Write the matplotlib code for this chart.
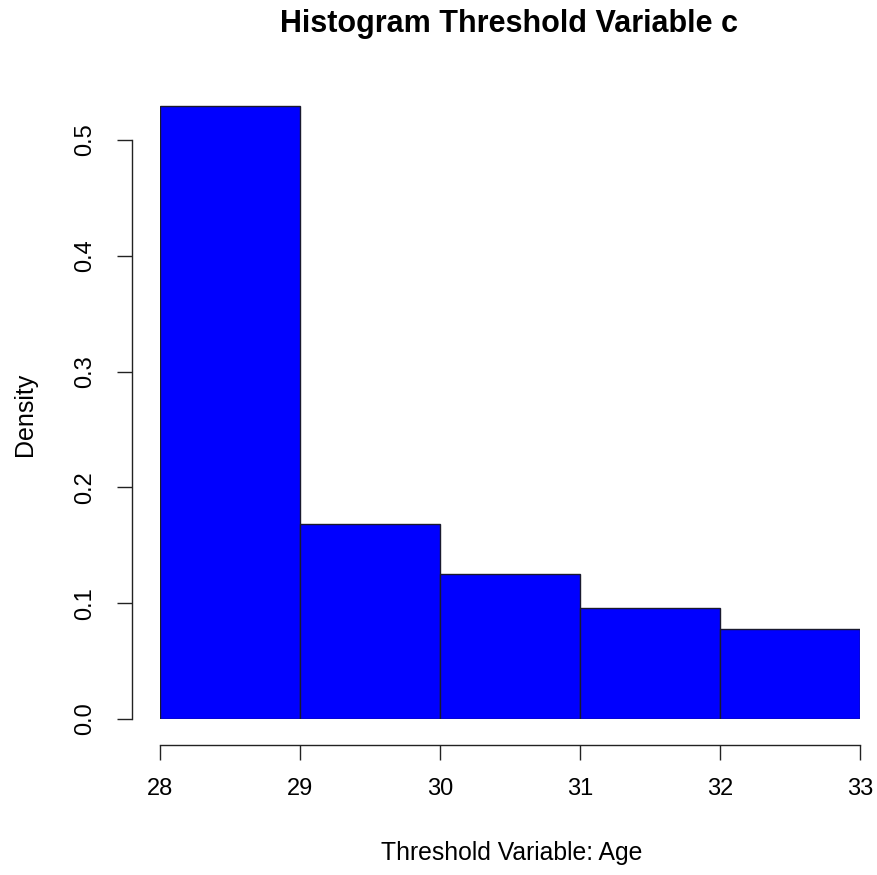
import matplotlib.pyplot as plt

plt.rcParams['font.family'] = ['Liberation Sans', 'DejaVu Sans']

# Histogram bins (Age) and density per bin
bin_edges = [28, 29, 30, 31, 32, 33]
density = [0.529, 0.168, 0.125, 0.096, 0.078]
x_ticks = [28, 29, 30, 31, 32, 33]
y_ticks = [0.0, 0.1, 0.2, 0.3, 0.4, 0.5]

W, H = 878, 875
fig = plt.figure(figsize=(W / 100, H / 100), dpi=100)

# axes box: x 160..860 px, y=0 at 719 px, ylim top 0.55
y_top = 0.55
px_per_unit = 1158
top_px = 719 - y_top * px_per_unit
ax = fig.add_axes([160 / W, 1 - 719 / H, 700 / W, (719 - top_px) / H])

lefts = bin_edges[:-1]
widths = [b - a for a, b in zip(bin_edges[:-1], bin_edges[1:])]
ax.bar(lefts, density, width=widths, align='edge', color='#0000ff',
       edgecolor='#1a1a2e', linewidth=1.0)

ax.set_xlim(28, 33)
ax.set_ylim(0, y_top)

for s in ['top', 'right']:
    ax.spines[s].set_visible(False)
ax.spines['left'].set_position(('outward', 28 * 0.72))
ax.spines['bottom'].set_position(('outward', 26 * 0.72))
ax.spines['left'].set_bounds(0, 0.5)
ax.spines['bottom'].set_bounds(28, 33)
for s in ['left', 'bottom']:
    ax.spines[s].set_linewidth(1.0)
    ax.spines[s].set_color('#222222')

ax.set_xticks(x_ticks)
ax.set_xticklabels([str(t) for t in x_ticks], fontsize=17)
ax.set_yticks(y_ticks)
ax.set_yticklabels(['%.1f' % t for t in y_ticks], fontsize=17, rotation=90, va='center')
ax.tick_params(axis='both', length=15 * 0.72, width=1.0, color='#222222')
ax.tick_params(axis='x', pad=13)
ax.tick_params(axis='y', pad=15)

fig.text(509 / W, 1 - 24 / H, 'Histogram Threshold Variable c', ha='center', va='center',
         fontsize=22, fontweight='bold')
fig.text(512 / W, 1 - 853 / H, 'Threshold Variable: Age', ha='center', va='center', fontsize=17.8)
fig.text(25 / W, 1 - 414 / H, 'Density', ha='center', va='center', rotation=90, fontsize=18)

fig.savefig('out.png', dpi=100)
